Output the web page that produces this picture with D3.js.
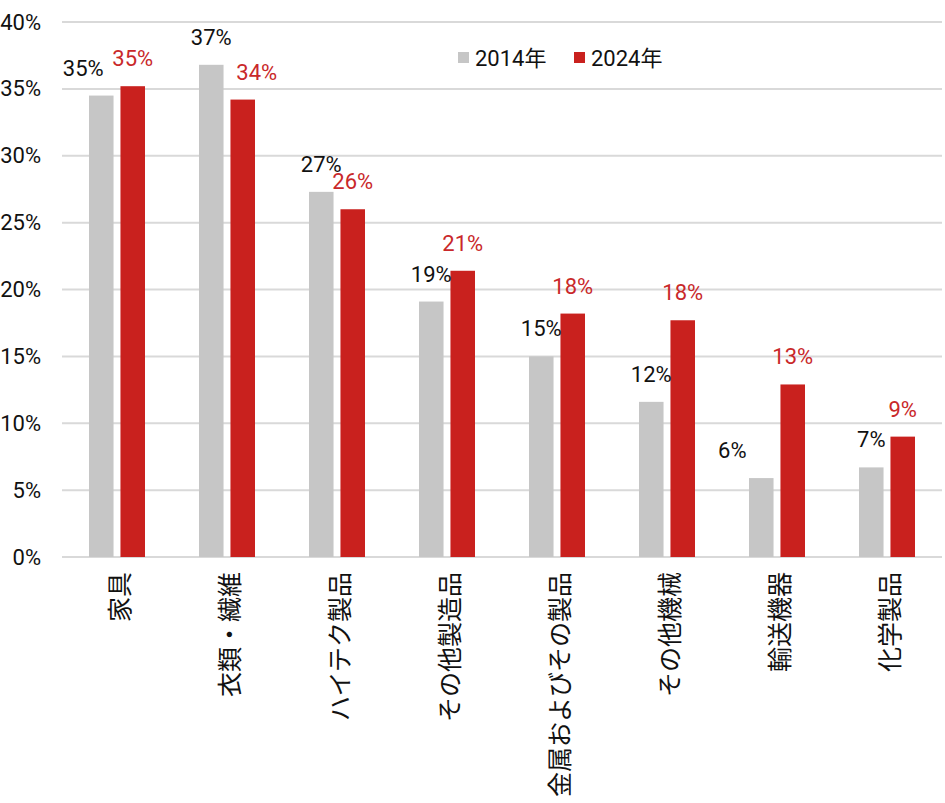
<!DOCTYPE html>
<html><head><meta charset="utf-8">
<script src="https://cdn.jsdelivr.net/npm/d3@7"></script>
<style>body{margin:0;background:#fff}</style>
</head><body>
<svg id="c" width="945" height="803"></svg>
<script>
const categories = ["家具","衣類・繊維","ハイテク製品","その他製造品","金属およびその製品","その他機械","輸送機器","化学製品"];
const series = ["2014年","2024年"];
const values2014 = [34.5, 36.8, 27.3, 19.1, 15.0, 11.6, 5.9, 6.7];
const values2024 = [35.2, 34.2, 26.0, 21.4, 18.2, 17.7, 12.9, 9.0];
const yTicks = [0,5,10,15,20,25,30,35,40];
// label horizontal nudges (styling, to avoid overlaps as in the original)
const nudge2014 = [-18,0,0,0,0,0,-29,0];
const nudge2024 = [0,14,0,0,0,0,0,0];

const colors = {"2014年":"#c6c6c6","2024年":"#c9211e"};
const labelColors = {"2014年":"#111","2024年":"#c9282a"};
const svg = d3.select("#c");
const L=62, R=942, T=22, B=557;
const x0 = d3.scaleBand().domain(categories).range([L,R]).padding(0);
const x1 = d3.scaleBand().domain(series).range([27,83]).paddingInner(0.22);
const y = d3.scaleLinear().domain([0,40]).range([B,T]);
const numFont = "Roboto, 'Noto Sans CJK JP', sans-serif";

// gridlines
svg.append("g").selectAll("line").data(yTicks).join("line")
  .attr("x1",L).attr("x2",R).attr("y1",d=>y(d)).attr("y2",d=>y(d))
  .attr("stroke","#d9d9d9").attr("stroke-width",2);

// y tick labels
svg.append("g").selectAll("text").data(yTicks).join("text")
  .attr("x",41).attr("y",d=>y(d)).attr("text-anchor","end").attr("dominant-baseline","central")
  .attr("font-family",numFont).attr("font-size",22).attr("fill","#111")
  .text(d=>d+"%");

const rows = categories.map((c,i)=>({c, vals:[
  {s:"2014年", v:values2014[i], dx:nudge2014[i]},
  {s:"2024年", v:values2024[i], dx:nudge2024[i]}]}));

const g = svg.append("g").selectAll("g").data(rows).join("g")
  .attr("transform",d=>`translate(${x0(d.c)},0)`);
g.selectAll("rect").data(d=>d.vals).join("rect")
  .attr("x",d=>x1(d.s)).attr("width",x1.bandwidth())
  .attr("y",d=>y(d.v)).attr("height",d=>B-y(d.v))
  .attr("fill",d=>colors[d.s]);
g.selectAll("text").data(d=>d.vals).join("text")
  .attr("x",d=>x1(d.s)+x1.bandwidth()/2+d.dx).attr("y",d=>y(d.v)-20)
  .attr("text-anchor","middle").attr("font-family",numFont).attr("font-size",22)
  .attr("fill",d=>labelColors[d.s]).text(d=>Math.round(d.v)+"%");

// category labels (rotated)
svg.append("g").selectAll("text").data(categories).join("text")
  .attr("transform",d=>`translate(${x0(d)+x0.bandwidth()/2+1},572) rotate(-90)`)
  .attr("text-anchor","end").attr("dominant-baseline","central")
  .attr("font-family","'Noto Sans CJK JP', sans-serif").attr("font-size",25).attr("fill","#111")
  .text(d=>d);

// legend
const leg = svg.append("g");
const legX = [458, 574];
series.forEach((s,i)=>{
  leg.append("rect").attr("x",legX[i]).attr("y",52).attr("width",11).attr("height",11).attr("fill",colors[s]);
  leg.append("text").attr("x",legX[i]+17).attr("y",58).attr("dominant-baseline","central")
    .attr("font-family",numFont).attr("font-size",22).attr("fill","#111").text(s);
});
</script>
</body></html>
